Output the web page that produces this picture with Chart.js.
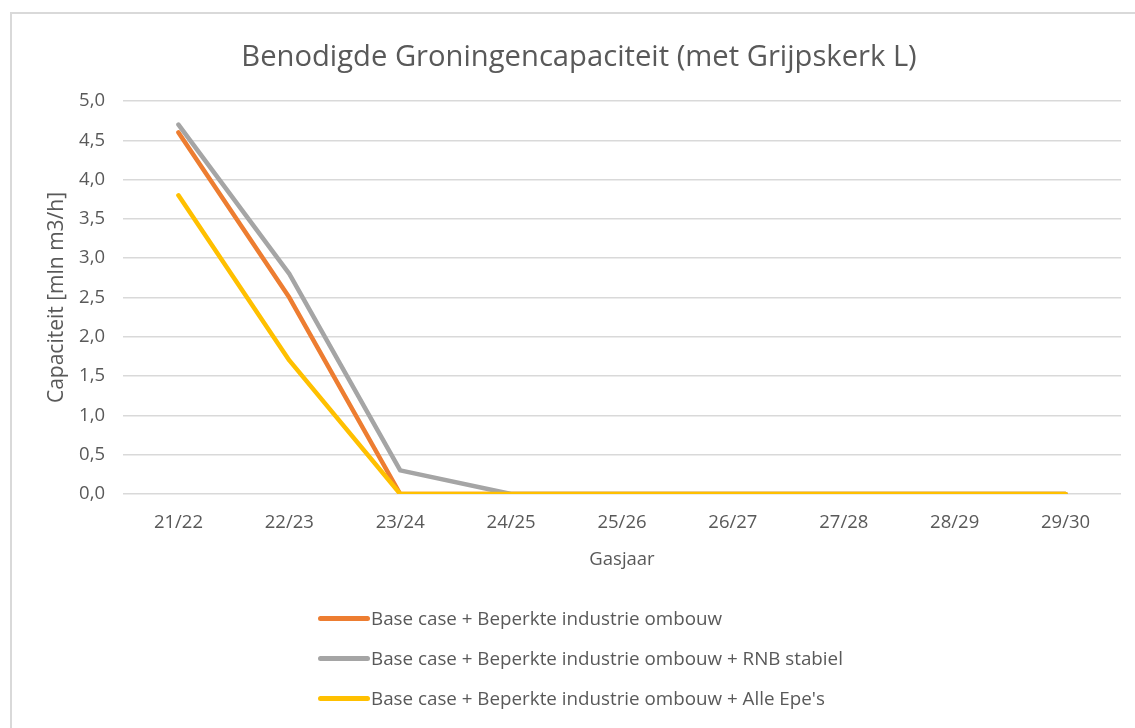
<!DOCTYPE html>
<html>
<head>
<meta charset="utf-8">
<script src="https://cdn.jsdelivr.net/npm/chart.js@4"></script>
<style>
    html, body { margin: 0; padding: 0; background: #fff; overflow: hidden; }
    #frame {
        position: absolute; left: 10px; top: 12px; width: 1200px; height: 800px;
        border: 2px solid #d9d9d9; box-sizing: border-box;
    }
    #wrap { position: absolute; left: 0; top: 0; width: 1135px; height: 728px; }
    #legend { position: absolute; left: 318px; top: 598px; font-family: 'Open Sans', sans-serif; font-size: 18.8px; color: #595959; }
    .legend-item { height: 40px; display: flex; align-items: center; }
    .legend-line { width: 52px; height: 5px; border-radius: 3px; margin-right: 1px; }
</style>
</head>
<body>
<div id="frame"></div>
<div id="wrap"><canvas id="chart" width="1135" height="728"></canvas></div>
<div id="legend"></div>
<script>
// Chart data
const seasons = ['21/22', '22/23', '23/24', '24/25', '25/26', '26/27', '27/28', '28/29', '29/30'];
const baseCase = [4.6, 2.5, 0, 0, 0, 0, 0, 0, 0];
const rnbStable = [4.7, 2.8, 0.3, 0, 0, 0, 0, 0, 0];
const allEpes = [3.8, 1.7, 0, 0, 0, 0, 0, 0, 0];
const seriesNames = [
    'Base case + Beperkte industrie ombouw',
    'Base case + Beperkte industrie ombouw + RNB stabiel',
    "Base case + Beperkte industrie ombouw + Alle Epe's"
];
const seriesColors = ['#ED7D31', '#A5A5A5', '#FFC000'];

const textColor = '#595959';
const fontFamily = "'Open Sans', sans-serif";

document.addEventListener('DOMContentLoaded', function() {
    initChart();
    buildLegend();
});

function initChart() {
    const ctx = document.getElementById('chart').getContext('2d');
    const values = [baseCase, rnbStable, allEpes];

    new Chart(ctx, {
        type: 'line',
        data: {
            labels: seasons,
            datasets: values.map((data, i) => ({
                label: seriesNames[i],
                data: data,
                borderColor: seriesColors[i],
                backgroundColor: seriesColors[i],
                borderWidth: 4.5,
                pointRadius: 0,
                tension: 0,
                borderCapStyle: 'round',
                borderJoinStyle: 'round',
                order: values.length - i
            }))
        },
        options: {
            responsive: false,
            animation: false,
            layout: {
                // left padding shifts the title centre to match Excel's frame
                padding: { left: 37, right: 14, top: 0, bottom: 157.4 }
            },
            plugins: {
                legend: { display: false },
                tooltip: { enabled: false },
                title: {
                    display: true,
                    text: 'Benodigde Groningencapaciteit (met Grijpskerk L)',
                    color: textColor,
                    font: { family: fontFamily, size: 29.2, weight: 'normal' },
                    padding: { top: 40.5, bottom: 25.5 }
                }
            },
            scales: {
                x: {
                    offset: true,
                    grid: { display: false, drawTicks: false },
                    border: { display: false },
                    ticks: {
                        color: textColor,
                        padding: 18,
                        maxRotation: 0,
                        font: { family: fontFamily, size: 18.5 }
                    },
                    title: {
                        display: true,
                        text: 'Gasjaar',
                        color: textColor,
                        font: { family: fontFamily, size: 18.5 },
                        padding: { top: 15, bottom: 0 }
                    },
                    afterFit: function(axis) { axis.height = 76.6; }
                },
                y: {
                    min: 0,
                    max: 5,
                    grid: { color: '#d9d9d9', lineWidth: 1.5, drawTicks: false },
                    border: { display: false },
                    ticks: {
                        stepSize: 0.5,
                        color: textColor,
                        padding: 18,
                        font: { family: fontFamily, size: 18.5 },
                        callback: v => v.toFixed(1).replace('.', ',')
                    },
                    title: {
                        display: true,
                        text: 'Capaciteit [mln m3/h]',
                        color: textColor,
                        font: { family: fontFamily, size: 21 },
                        padding: { top: 7.4, bottom: 0 }
                    },
                    afterFit: function(axis) { axis.width = 86; }
                }
            }
        }
    });
}

function buildLegend() {
    const legend = document.getElementById('legend');
    seriesNames.forEach((name, i) => {
        const item = document.createElement('div');
        item.className = 'legend-item';
        const line = document.createElement('span');
        line.className = 'legend-line';
        line.style.background = seriesColors[i];
        const label = document.createElement('span');
        label.textContent = name;
        item.appendChild(line);
        item.appendChild(label);
        legend.appendChild(item);
    });
}
</script>
</body>
</html>
